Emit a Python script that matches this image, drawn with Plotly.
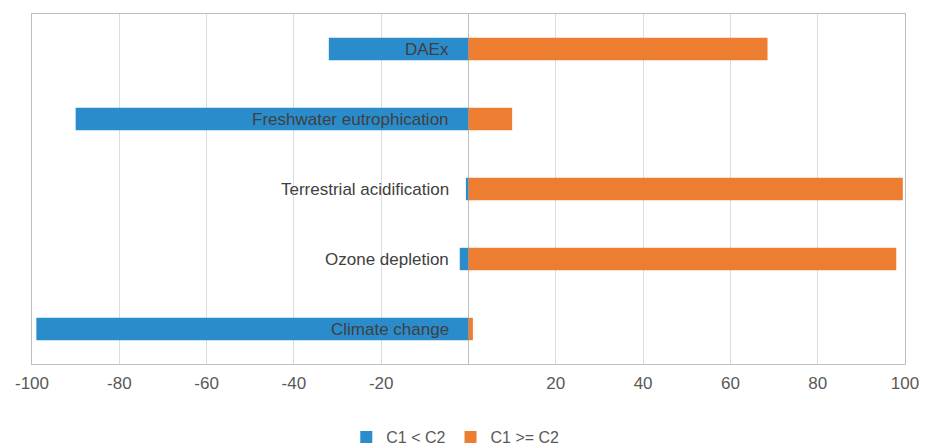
import plotly.graph_objects as go

categories = ["Climate change", "Ozone depletion", "Terrestrial acidification",
              "Freshwater eutrophication", "DAEx"]
c1_lt_c2 = [-99, -2, -0.6, -90, -32]
c1_ge_c2 = [1, 98, 99.5, 10, 68.5]
tick_vals = [-100, -80, -60, -40, -20, 20, 40, 60, 80, 100]
tick_text = ["-100", "-80", "-60", "-40", "-20", "20", "40", "60", "80", "100"]

blue = "#2b8ccb"
orange = "#ed7d31"
font = "Liberation Sans, Arial, sans-serif"

fig = go.Figure()
fig.add_trace(go.Bar(y=categories, x=c1_lt_c2, orientation="h", name="C1 < C2",
                     marker=dict(color=blue, line=dict(width=0)), width=0.32))
fig.add_trace(go.Bar(y=categories, x=c1_ge_c2, orientation="h", name="C1 >= C2",
                     marker=dict(color=orange, line=dict(width=0)), width=0.32))

for cat in categories:
    fig.add_annotation(x=0, y=cat, xref="x", yref="y", text=cat, showarrow=False,
                       xanchor="right", xshift=-18,
                       font=dict(family=font, size=17, color="#404040"))

fig.update_layout(
    width=919, height=440,
    margin=dict(l=24, r=22, t=6, b=84, autoexpand=False),
    barmode="relative",
    paper_bgcolor="white", plot_bgcolor="white",
    font=dict(family=font, size=17, color="#595959"),
    showlegend=True,
    legend=dict(orientation="h", x=0.36, xanchor="left",
                yref="container", y=0.025, yanchor="middle",
                font=dict(family=font, size=16, color="#595959"),
                itemwidth=30, traceorder="normal"),
)
fig.update_xaxes(range=[-100, 100], tickvals=tick_vals, ticktext=tick_text,
                 automargin=False, ticklabelstandoff=4,
                 showgrid=True, gridcolor="#d9dde6", gridwidth=1,
                 zeroline=True, zerolinecolor="#bfbfbf", zerolinewidth=1,
                 showline=True, linecolor="#bfbfbf", linewidth=1, mirror=True,
                 ticks="", fixedrange=True)
fig.update_yaxes(showticklabels=False, showgrid=False, ticks="", automargin=False,
                 showline=True, linecolor="#bfbfbf", linewidth=1, mirror=True,
                 range=[-0.5, 4.5], fixedrange=True)

fig.write_html("out.html")
